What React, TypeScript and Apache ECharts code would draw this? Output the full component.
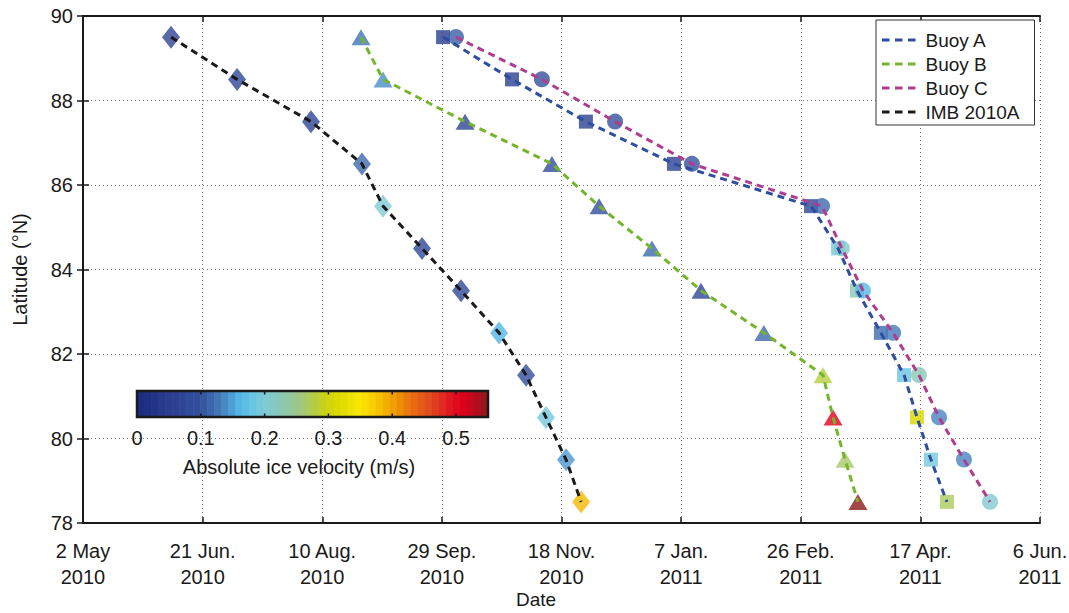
import React, { useEffect, useRef } from "react";
import * as echarts from "echarts";

// X axis: days since 2 May 2010
const xTickLabels = [
  "2 May\n2010",
  "21 Jun.\n2010",
  "10 Aug.\n2010",
  "29 Sep.\n2010",
  "18 Nov.\n2010",
  "7 Jan.\n2011",
  "26 Feb.\n2011",
  "17 Apr.\n2011",
  "6 Jun.\n2011",
];
const xMin = 0;
const xMax = 400;
const xStep = 50;

const latitudes = [89.5, 88.5, 87.5, 86.5, 85.5, 84.5, 83.5, 82.5, 81.5, 80.5, 79.5, 78.5];

const buoyADays = [150.5, 179.3, 210.2, 247.0, 304.3, 315.6, 323.5, 333.5, 343.2, 348.6, 354.4, 361.1];
const buoyAVel = [0.05, 0.06, 0.06, 0.06, 0.07, 0.19, 0.23, 0.12, 0.18, 0.31, 0.19, 0.27];

const buoyBDays = [116.2, 125.4, 159.7, 196.0, 215.7, 237.8, 258.3, 284.6, 309.3, 313.5, 318.5, 323.9];
const buoyBVel = [0.125, 0.14, 0.07, 0.09, 0.09, 0.12, 0.07, 0.12, 0.28, 0.51, 0.265, 0.55];

const buoyCDays = [155.9, 191.8, 222.4, 254.5, 308.9, 317.2, 326.0, 338.6, 349.4, 357.8, 368.2, 379.1];
const buoyCVel = [0.11, 0.1, 0.1, 0.1, 0.12, 0.21, 0.165, 0.13, 0.225, 0.135, 0.135, 0.205];

const imbDays = [36.8, 64.4, 95.3, 116.6, 125.4, 141.7, 158.0, 173.9, 185.2, 193.5, 201.9, 208.2];
const imbVel = [0.07, 0.08, 0.07, 0.12, 0.2, 0.08, 0.08, 0.16, 0.09, 0.19, 0.145, 0.385];

const colorbarTicks = [0, 0.1, 0.2, 0.3, 0.4, 0.5];
const colorbarMax = 0.55;
const colorbarTitle = "Absolute ice velocity (m/s)";

const colorStops: [number, string][] = [
  [0.0, "#1b2a7e"],
  [0.05, "#2a3d8f"],
  [0.1, "#34519e"],
  [0.12, "#3d6aae"],
  [0.14, "#4a8cc8"],
  [0.16, "#52b6e4"],
  [0.18, "#66c6e4"],
  [0.2, "#80cad6"],
  [0.23, "#8cc8b0"],
  [0.26, "#a2c878"],
  [0.29, "#c4d020"],
  [0.31, "#d8d800"],
  [0.35, "#fae800"],
  [0.38, "#f6c000"],
  [0.4, "#f0a000"],
  [0.43, "#e87010"],
  [0.46, "#e04a20"],
  [0.49, "#e01820"],
  [0.51, "#e0001c"],
  [0.53, "#b80c20"],
  [0.55, "#8c1a1a"],
];

function hexToRgb(h: string) {
  const n = parseInt(h.slice(1), 16);
  return [(n >> 16) & 255, (n >> 8) & 255, n & 255];
}
function velColor(v: number): string {
  if (v <= colorStops[0][0]) return colorStops[0][1];
  for (let i = 1; i < colorStops.length; i++) {
    if (v <= colorStops[i][0]) {
      const [v0, c0] = colorStops[i - 1];
      const [v1, c1] = colorStops[i];
      const t = (v - v0) / (v1 - v0);
      const a = hexToRgb(c0);
      const b = hexToRgb(c1);
      const r = a.map((x, k) => Math.round(x + (b[k] - x) * t));
      return `rgb(${r[0]},${r[1]},${r[2]})`;
    }
  }
  return colorStops[colorStops.length - 1][1];
}

const FONT = '"Liberation Sans", Arial, Helvetica, sans-serif';
const INK = "#1a1a1a";

export default function App() {
  const ref = useRef<HTMLDivElement>(null);
  useEffect(() => {
    if (!ref.current) return;
    const chart = echarts.init(ref.current, null, { renderer: "svg" });

    const buoys = [
      { name: "Buoy A", days: buoyADays, vel: buoyAVel, symbol: "rect", size: [14, 14], color: "#2e4d9e" },
      { name: "Buoy B", days: buoyBDays, vel: buoyBVel, symbol: "triangle", size: [19, 16], color: "#74b52c" },
      { name: "Buoy C", days: buoyCDays, vel: buoyCVel, symbol: "circle", size: 16, color: "#b03c8e" },
      { name: "IMB 2010A", days: imbDays, vel: imbVel, symbol: "diamond", size: [18, 23], color: "#1a1a1a" },
    ];

    const series: any[] = [];
    buoys.forEach((b) => {
      series.push({
        type: "scatter",
        name: b.name + " markers",
        symbol: b.symbol,
        symbolSize: b.size,
        z: 2,
        silent: true,
        data: b.days.map((d, i) => ({
          value: [d, latitudes[i]],
          itemStyle: { color: velColor(b.vel[i]) },
        })),
      });
    });
    buoys.forEach((b) => {
      series.push({
        type: "line",
        name: b.name,
        showSymbol: false,
        symbol: "none",
        z: 3,
        silent: true,
        color: b.color,
        itemStyle: { color: b.color },
        lineStyle: { color: b.color, width: 3, type: [7, 5] },
        data: b.days.map((d, i) => [d, latitudes[i]]),
      });
    });

    // colorbar
    const cbX0 = 137;
    const cbX1 = 488;
    const cbY0 = 391;
    const cbY1 = 417;
    const cbW = cbX1 - cbX0;
    const toCbX = (v: number) => cbX0 + (v / colorbarMax) * cbW;
    const N = 50;
    const graphics: any[] = [];
    for (let i = 0; i < N; i++) {
      const v = ((i + 0.5) / N) * colorbarMax;
      const x = cbX0 + (i / N) * cbW;
      graphics.push({
        type: "rect",
        shape: { x, y: cbY0, width: cbW / N + 0.6, height: cbY1 - cbY0 },
        style: { fill: velColor(v) },
        z: 100,
        silent: true,
      });
    }
    graphics.push({
      type: "rect",
      shape: { x: cbX0, y: cbY0, width: cbW, height: cbY1 - cbY0 },
      style: { fill: "none", stroke: INK, lineWidth: 2.5 },
      z: 101,
      silent: true,
    });
    colorbarTicks.forEach((t) => {
      const x = toCbX(t);
      if (t > 0) {
        graphics.push({
          type: "line",
          shape: { x1: x, y1: cbY0, x2: x, y2: cbY0 + 3.5 },
          style: { stroke: INK, lineWidth: 1.5 },
          z: 102,
          silent: true,
        });
        graphics.push({
          type: "line",
          shape: { x1: x, y1: cbY1, x2: x, y2: cbY1 - 3.5 },
          style: { stroke: INK, lineWidth: 1.5 },
          z: 102,
          silent: true,
        });
      }
      graphics.push({
        type: "text",
        x,
        y: 438,
        style: {
          text: String(t),
          fill: INK,
          font: `20px ${FONT}`,
          textAlign: "center",
          textVerticalAlign: "middle",
        },
        z: 102,
        silent: true,
      });
    });
    graphics.push({
      type: "text",
      x: 299,
      y: 467,
      style: {
        text: colorbarTitle,
        fill: INK,
        font: `20px ${FONT}`,
        textAlign: "center",
        textVerticalAlign: "middle",
      },
      z: 102,
      silent: true,
    });

    const dashIcon = "path://M0 0H7.5V3H0Z M13 0H20.5V3H13Z M26 0H33.5V3H26Z";

    const baseX = {
      type: "value",
      min: xMin,
      max: xMax,
      interval: xStep,
    };
    const baseY = {
      type: "value",
      min: 78,
      max: 90,
      interval: 2,
    };

    chart.setOption({
      animation: false,
      backgroundColor: "#ffffff",
      grid: { left: 83, top: 16, width: 957, height: 507, containLabel: false, outerBoundsMode: "none" },
      legend: {
        left: 876,
        top: 20,
        orient: "vertical",
        backgroundColor: "#ffffff",
        borderColor: "#333333",
        borderWidth: 1,
        borderRadius: 0,
        padding: [10, 15, 3, 6],
        itemGap: 4,
        itemWidth: 33.5,
        itemHeight: 3,
        icon: dashIcon,
        selectedMode: false,
        textStyle: { fontSize: 19, fontFamily: FONT, color: INK, lineHeight: 20, padding: [0, 0, 0, 5] },
        itemStyle: { borderWidth: 0 },
        data: buoys.map((b) => ({ name: b.name, icon: dashIcon, itemStyle: { color: b.color } })),
        z: 50,
      },
      xAxis: [
        {
          ...baseX,
          position: "bottom",
          name: "Date",
          nameLocation: "middle",
          nameGap: 66,
          nameMoveOverlap: false,
          nameTextStyle: { fontSize: 19, lineHeight: 20, fontFamily: FONT, color: INK, padding: [0, 51, 0, 0] },
          axisLine: { show: true, lineStyle: { color: INK, width: 2 } },
          axisTick: { show: true, inside: true, length: 6, lineStyle: { color: INK, width: 1.5 } },
          axisLabel: {
            show: true,
            margin: 15,
            fontSize: 20,
            lineHeight: 26,
            fontFamily: FONT,
            color: INK,
            showMinLabel: true,
            showMaxLabel: true,
            formatter: (v: number) => xTickLabels[Math.round((v - xMin) / xStep)] ?? "",
          },
          splitLine: { show: true, lineStyle: { color: "#777", width: 1, type: [1, 3] } },
        },
        {
          ...baseX,
          position: "top",
          axisLine: { show: true, lineStyle: { color: INK, width: 2 } },
          axisTick: { show: true, inside: true, length: 6, lineStyle: { color: INK, width: 1.5 } },
          axisLabel: { show: false },
          splitLine: { show: false },
        },
      ],
      yAxis: [
        {
          ...baseY,
          position: "left",
          name: "Latitude (°N)",
          nameLocation: "middle",
          nameGap: 53,
          nameRotate: 90,
          nameMoveOverlap: false,
          nameTextStyle: { fontSize: 20, fontFamily: FONT, color: INK },
          axisLine: { show: true, lineStyle: { color: INK, width: 2 } },
          axisTick: { show: true, inside: true, length: 6, lineStyle: { color: INK, width: 1.5 } },
          axisLabel: { show: true, margin: 10, fontSize: 20, fontFamily: FONT, color: INK, showMinLabel: true, showMaxLabel: true },
          splitLine: { show: true, lineStyle: { color: "#777", width: 1, type: [1, 3] } },
        },
        {
          ...baseY,
          position: "right",
          axisLine: { show: true, lineStyle: { color: INK, width: 2 } },
          axisTick: { show: true, inside: true, length: 6, lineStyle: { color: INK, width: 1.5 } },
          axisLabel: { show: false },
          splitLine: { show: false },
        },
      ],
      series,
      graphic: graphics,
    });

    return () => chart.dispose();
  }, []);

  return (
    <div
      ref={ref}
      style={{ position: "fixed", left: 0, top: 0, width: 1069, height: 613, background: "#fff" }}
    />
  );
}
